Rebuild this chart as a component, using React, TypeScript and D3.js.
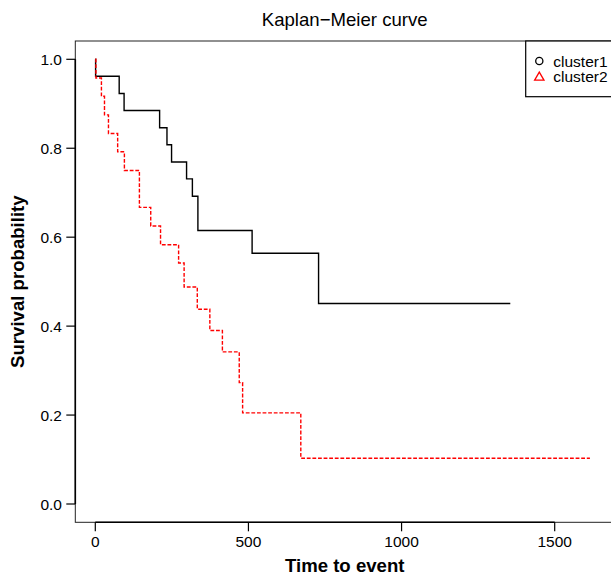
import React from "react";
import * as d3 from "d3";

const xTicks = [0, 500, 1000, 1500];
const yTicks = [0, 0.2, 0.4, 0.6, 0.8, 1.0];

const cluster1Times = [0, 1, 78, 94, 210, 234, 249, 298, 317, 335, 512, 729, 1355];
const cluster1Surv = [1, 0.962, 0.923, 0.885, 0.846, 0.808, 0.769, 0.731, 0.692, 0.615, 0.564, 0.451, 0.451];

const cluster2Times = [0, 2, 20, 30, 43, 73, 95, 144, 181, 213, 272, 290, 333, 374, 415, 470, 481, 671, 1615];
const cluster2Surv = [1, 0.958, 0.917, 0.875, 0.833, 0.792, 0.75, 0.667, 0.625, 0.583, 0.542, 0.488, 0.438, 0.39, 0.342, 0.273, 0.205, 0.103, 0.103];

const legendLabels = ["cluster1", "cluster2"];

const FONT = "'Liberation Sans', Arial, Helvetica, sans-serif";

export default function App() {
  const x = d3.scaleLinear().domain([0, 1500]).range([95.3, 554.7]);
  const y = d3.scaleLinear().domain([0, 1]).range([504, 59.3]);
  const boxL = 75.3, boxT = 41, boxB = 522.3, boxR = 614.5;

  const line = d3
    .line<[number, number]>()
    .x((d) => x(d[0]))
    .y((d) => y(d[1]))
    .curve(d3.curveStepAfter);

  const p1 = line(cluster1Times.map((t, i) => [t, cluster1Surv[i]] as [number, number])) || "";
  const p2 = line(cluster2Times.map((t, i) => [t, cluster2Surv[i]] as [number, number])) || "";

  const tri = d3.symbol().type(d3.symbolTriangle).size(38)() || "";

  return (
    <svg
      width={611}
      height={576}
      style={{ position: "absolute", left: 0, top: 0, background: "#fff" }}
      fontFamily={FONT}
    >
      <rect x={0} y={0} width={611} height={576} fill="#fff" />
      {/* title */}
      <text x={344.7} y={26} textAnchor="middle" fontSize={18.6} fill="#000">
        Kaplan−Meier curve
      </text>
      {/* plot box */}
      <rect x={boxL} y={boxT} width={boxR - boxL} height={boxB - boxT} fill="none" stroke="#222" strokeWidth={1} />
      {/* curves */}
      <path d={p1} fill="none" stroke="#000" strokeWidth={1.4} />
      <path d={p2} fill="none" stroke="#ff0000" strokeWidth={1.4} strokeDasharray="3.8,1.8" />
      {/* x axis */}
      <line x1={x(0)} x2={x(1500)} y1={boxB} y2={boxB} stroke="#000" strokeWidth={1.6} />
      {xTicks.map((t) => (
        <g key={"x" + t}>
          <line x1={x(t)} x2={x(t)} y1={boxB} y2={boxB + 9} stroke="#000" strokeWidth={1.2} />
          <text x={x(t)} y={547} textAnchor="middle" fontSize={15.5} fill="#000">
            {t}
          </text>
        </g>
      ))}
      {/* y axis */}
      <line x1={boxL} x2={boxL} y1={y(0)} y2={y(1)} stroke="#000" strokeWidth={1.6} />
      {yTicks.map((t) => (
        <g key={"y" + t}>
          <line x1={boxL - 9} x2={boxL} y1={y(t)} y2={y(t)} stroke="#000" strokeWidth={1.2} />
          <text x={62} y={y(t) + 5.5} textAnchor="end" fontSize={15.5} fill="#000">
            {t.toFixed(1)}
          </text>
        </g>
      ))}
      {/* axis titles */}
      <text x={344.7} y={572} textAnchor="middle" fontSize={18.6} fontWeight="bold" fill="#000">
        Time to event
      </text>
      <text
        transform={`translate(24, ${(boxT + boxB) / 2}) rotate(-90)`}
        textAnchor="middle"
        fontSize={18.6}
        fontWeight="bold"
        fill="#000"
      >
        Survival probability
      </text>
      {/* legend */}
      <rect x={525.7} y={boxT} width={120} height={96.7 - boxT} fill="#fff" stroke="#000" strokeWidth={1.2} />
      <circle cx={539.3} cy={61} r={3.6} fill="none" stroke="#000" strokeWidth={1.3} />
      <path d={tri} transform="translate(539.3, 77.5)" fill="none" stroke="#ff0000" strokeWidth={1.3} />
      {legendLabels.map((l, i) => (
        <text key={l} x={553.3} y={66.5 + i * 15.7} fontSize={15.5} fill="#000">
          {l}
        </text>
      ))}
    </svg>
  );
}
